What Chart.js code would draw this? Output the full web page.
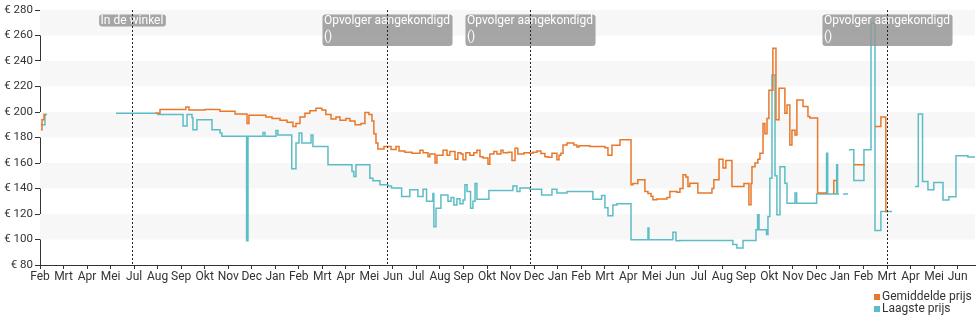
<!DOCTYPE html>
<html>
<head>
<meta charset="utf-8">
<script src="https://cdn.jsdelivr.net/npm/chart.js@4.4.1/dist/chart.umd.min.js"></script>
<style>
  html, body { margin: 0; padding: 0; background: #fff; }
  #wrap { position: relative; width: 980px; height: 325px; }
  #legend { position: absolute; left: 874px; top: 290px; font: 12px Roboto, sans-serif; color: #333; line-height: 12px; }
  #legend .box { display: inline-block; width: 6px; height: 6px; margin-right: 2px; }
</style>
</head>
<body>
<div id="wrap">
  <canvas id="chart" width="980" height="325"></canvas>
  <div id="legend"></div>
</div>
<script>
// x in months since the first Feb tick, y in euro; null = no price
const monthLabels = ['Feb','Mrt','Apr','Mei','Jul','Aug','Sep','Okt','Nov','Dec','Jan',
  'Feb','Mrt','Apr','Mei','Jun','Jul','Aug','Sep','Okt','Nov','Dec','Jan',
  'Feb','Mrt','Apr','Mei','Jun','Jul','Aug','Sep','Okt','Nov','Dec','Jan',
  'Feb','Mrt','Apr','Mei','Jun'];

const avgX = [0.04, 0.085, 0.17, 0.255, 1,
  4.89, 5.10, 6.20, 6.33, 7.01, 7.65, 8.29, 8.80, 8.88, 9.60, 9.86, 10.20, 10.50, 10.75, 10.88,
  11.05, 11.26, 11.47, 11.73, 11.98, 12.15, 12.37, 12.58, 12.75, 13.00, 13.17, 13.39, 13.64, 13.81,
  13.98, 14.11, 14.19, 14.28, 14.36, 14.62, 14.92, 15.13, 15.26, 15.51, 15.81, 16.15, 16.28, 16.49,
  16.57, 16.79, 16.87, 17.13, 17.30, 17.42, 17.64, 17.76, 17.89, 17.98, 18.10, 18.27, 18.44, 18.57,
  18.70, 18.83, 19.04, 19.12, 19.29, 19.42, 19.59, 19.68, 19.89, 20.06, 20.19, 20.31, 20.57, 20.82,
  20.95, 21.12, 21.29, 21.46, 21.59, 21.76, 21.97, 22.06, 22.14, 22.23, 22.40, 22.69, 22.82, 22.91,
  23.37, 23.71, 24.01, 24.14, 24.31, 24.65, 25.12, 25.20, 25.41, 25.71, 25.84, 25.97, 26.05, 26.22,
  26.65, 26.77, 27.07, 27.20, 27.33, 27.45, 27.54, 27.62, 27.96, 28.56, 28.64, 28.86, 29.03, 29.15,
  29.41, 29.92, 30.13, 30.22, 30.26, 30.39, 30.51, 30.60, 30.73, 30.81, 30.90, 30.98, 31.15, 31.28,
  31.41, 31.66, 31.75, 31.87, 31.96, 32.09, 32.17, 32.43, 32.64, 32.72, 33.05, 33.45, 33.6,
  33.70, 33.74, 33.87, 34.1,
  34.59, 35.06, 35.3,
  35.49, 35.74, 35.95, 36.04];
const avgY = [186, 194, 198, 198, null,
  199, 202, 204, 201.5, 202, 200.5, 198.5, 191, 197.5, 196, 195, 193.5, 192, 188.6, 191,
  196, 199, 201, 203, 201.5, 198, 194.5, 196, 193.5, 195, 193, 190, 191, 199.6,
  198, 193, 183, 175.6, 171, 173, 170.6, 173, 169.5, 168.5, 167.7, 170, 168, 165,
  167, 160, 166, 170, 166, 169, 163, 168, 167, 162.5, 168, 166, 168, 170,
  165, 164, 159, 167, 169, 167, 170, 168, 168.5, 162, 171.5, 167, 168, 167.7,
  168.5, 169.5, 167.5, 165, 164.5, 167.7, 162.5, 166, 167.7, 174.2, 175.6, 174.2, 172.6, 173.5,
  173, 172.9, 172, 166, 174, 178.2, 143, 144, 146.8, 137.7, 136, 134, 131.2, 131.7,
  133, 137.7, 137, 140, 150.7, 149, 141.6, 144.2, 136.4, 140, 146.8, 163, 156, 162,
  141.6, 144, 127.2, 144, 157, 160, 163, 167.7, 191, 183, 195, 217, 250, 194,
  218.6, 199, 205.5, 174.2, 185.7, 182, 209.5, 204.3, 196.4, 195.2, 136.4, 136.4, null,
  136.4, 146.3, 146.3, null,
  158.6, 158.6, null,
  188.6, 196, 122, 122];

const lowX = [0.04, 0.21, 0.30, 1,
  3.23, 5.01, 6.08, 6.25, 6.46, 6.50, 6.67, 7.31, 7.65, 7.73, 8.78, 8.84, 9.48, 9.56, 10.03, 10.11,
  10.70, 10.88, 11.01, 11.13, 11.52, 11.60, 12.24, 13.26, 13.34, 13.43, 14.02, 14.15, 14.45, 14.79,
  14.94, 15.37, 15.72, 16.06, 16.28, 16.43, 16.70, 16.74, 16.83, 17.04, 17.34, 17.47, 17.59, 17.72,
  17.85, 17.98, 18.06, 18.15, 18.30, 18.40, 18.49, 18.57, 19.08, 20.10, 20.27, 20.40, 20.82, 21.32,
  21.76, 21.97, 22.40, 23.50, 23.87, 24.01, 24.14, 24.35, 24.52, 25.12, 25.84, 25.88, 26.90, 27.03,
  27.20, 29.45, 29.62, 29.88, 30.43, 30.50, 30.56, 30.88, 30.94, 31.02, 31.11, 31.24, 31.32, 31.45,
  31.66, 31.75, 32.09, 32.16, 33.01, 33.43, 33.48, 33.86, 33.90, 33.96, 34.05,
  34.13, 34.34, 34.36,
  34.38, 34.59, 35.02, 35.32, 35.49, 35.74, 36.21, 36.5,
  37.19, 37.33, 37.51, 37.74, 37.99, 38.38, 38.63, 38.93, 39.44, 39.74];
const lowY = [190, 198, 198, null,
  199, 198, 189, 198, 195.5, 186, 194, 186, 183.6, 181, 99, 181, 184, 181, 185.4, 182,
  155.4, 175.6, 183.6, 175.6, 182, 173, 158.6, 153.3, 149.4, 158.6, 148, 146, 143, 142,
  140.3, 133.7, 139, 133.7, 139.5, 130, 136, 110, 124.6, 135, 130, 133, 127, 132,
  128, 131, 143, 137.7, 124.6, 130, 144, 131.6, 138.5, 142, 137.7, 140.3, 139.4, 135,
  139.4, 136.5, 137.7, 131.6, 134.6, 125, 118.6, 127, 128, 99.8, 109, 99.8, 105.6, 99,
  99.3, 96, 93.3, 99.3, 107.7, 119.4, 107.7, 104, 118, 148, 229, 150, 119.4, 157,
  144.2, 128.5, 136.4, 128.5, 135.6, 167.7, 135.6, 158.6, 135.6, 135.6, null,
  135.6, 135.6, null,
  170.3, 146.3, 170.3, 269.6, 107.1, 122, 122, null,
  141.6, 198.5, 145.5, 139, 144.7, 131, 133.5, 165.6, 164.8, 164.8];

const eventX = [3.92, 14.73, 20.82, 36.01];
const eventText = [['In de winkel'], ['Opvolger aangekondigd', '()'], ['Opvolger aangekondigd', '()'], ['Opvolger aangekondigd', '()']];

const seriesNames = ['Gemiddelde prijs', 'Laagste prijs'];
const seriesColors = ['#e8782a', '#5dbdc6'];

const toPoints = (xs, ys) => xs.map((x, i) => ({ x: x, y: ys[i] }));

const bands = {
    id: 'bands',
    beforeDatasetsDraw(chart) {
        const { ctx, chartArea, scales } = chart;
        const t = scales.y.ticks;
        ctx.save();
        ctx.fillStyle = '#f7f7f7';
        for (let i = 1; i < t.length - 1; i += 2) {
            const a = scales.y.getPixelForValue(t[i].value);
            const b = scales.y.getPixelForValue(t[i + 1].value);
            ctx.fillRect(chartArea.left, b, chartArea.right - chartArea.left, a - b);
        }
        ctx.restore();
    }
};

const events = {
    id: 'events',
    afterDatasetsDraw(chart) {
        const { ctx, chartArea, scales } = chart;
        ctx.save();
        ctx.font = '12px Roboto, sans-serif';
        ctx.textBaseline = 'top';
        eventX.forEach((m, i) => {
            const x = Math.round(scales.x.getPixelForValue(m)) + 0.5;
            const lines = eventText[i];
            const w = Math.max(...lines.map(l => ctx.measureText(l).width)) + 4;
            const h = 12 + (lines.length - 1) * 19.5;
            const left = x - w / 2, top = chartArea.top + 4.5;
            ctx.fillStyle = 'rgba(150,150,150,0.85)';
            ctx.beginPath();
            ctx.roundRect(left, top, w, h, 3);
            ctx.fill();
            ctx.fillStyle = '#fff';
            lines.forEach((l, j) => ctx.fillText(l, left + 1.5, top + j * 16.7));
            ctx.strokeStyle = '#222';
            ctx.lineWidth = 1;
            ctx.setLineDash([2, 2]);
            ctx.beginPath();
            ctx.moveTo(x, chartArea.top);
            ctx.lineTo(x, chartArea.bottom);
            ctx.stroke();
        });
        ctx.restore();
    }
};

new Chart(document.getElementById('chart').getContext('2d'), {
    type: 'line',
    data: {
        datasets: [
            { label: seriesNames[0], data: toPoints(avgX, avgY), borderColor: seriesColors[0], backgroundColor: seriesColors[0] },
            { label: seriesNames[1], data: toPoints(lowX, lowY), borderColor: seriesColors[1], backgroundColor: seriesColors[1] }
        ]
    },
    options: {
        responsive: false,
        animation: false,
        parsing: false,
        elements: {
            line: { borderWidth: 1.5, stepped: true, tension: 0 },
            point: { radius: 0 }
        },
        layout: { padding: { top: 10, right: 5, bottom: 40, left: 0 } },
        plugins: { legend: { display: false }, tooltip: { enabled: false } },
        scales: {
            x: {
                type: 'linear', min: 0, max: 39.74,
                afterBuildTicks: s => { s.ticks = monthLabels.map((_, i) => ({ value: i })); },
                afterFit: s => { s.height = 20; },
                ticks: { autoSkip: false, maxRotation: 0, padding: 1, color: '#333',
                    font: { family: 'Roboto', size: 12 }, callback: v => monthLabels[v] },
                grid: { drawOnChartArea: false, tickLength: 4, color: '#333' },
                border: { color: '#333', width: 1 }
            },
            y: {
                min: 80, max: 280,
                afterFit: s => { s.width = 40; },
                ticks: { stepSize: 20, padding: 2, color: '#333',
                    font: { family: 'Roboto', size: 11.5 }, callback: v => '€ ' + v },
                grid: { drawOnChartArea: false, tickLength: 5, color: '#333' },
                border: { color: '#333', width: 1 }
            }
        }
    },
    plugins: [bands, events]
});

document.getElementById('legend').innerHTML = seriesNames.map((n, i) =>
    '<div><span class="box" style="background:' + seriesColors[i] + '"></span>' + n + '</div>').join('');
</script>
</body>
</html>
